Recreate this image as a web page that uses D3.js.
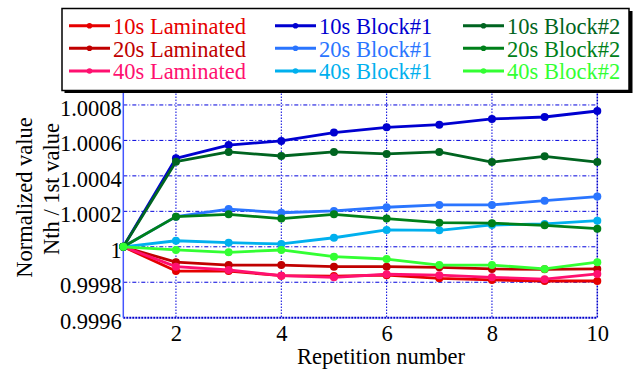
<!DOCTYPE html>
<html>
<head>
<meta charset="utf-8">
<script src="https://cdn.jsdelivr.net/npm/d3@7"></script>
<style>
  body { margin: 0; background: #fff; }
</style>
</head>
<body>
<svg id="chart" width="637" height="370"></svg>
<script>
// repetition index
const reps = [1, 2, 3, 4, 5, 6, 7, 8, 9, 10];

// Nth / 1st value
const lam10 = [1, 0.999863, 0.999863, 0.999837, 0.999835, 0.999840, 0.999822, 0.999813, 0.999807, 0.999807];
const lam20 = [1, 0.999913, 0.999897, 0.999897, 0.999888, 0.999888, 0.999884, 0.999875, 0.999873, 0.999875];
const lam40 = [1, 0.999888, 0.999869, 0.999837, 0.999828, 0.999845, 0.999840, 0.999828, 0.999817, 0.999847];
const blk1_10 = [1, 1.000499, 1.000574, 1.000597, 1.000644, 1.000674, 1.000689, 1.000721, 1.000732, 1.000766];
const blk1_20 = [1, 1.000170, 1.000213, 1.000192, 1.000202, 1.000223, 1.000236, 1.000236, 1.000260, 1.000283];
const blk1_40 = [1, 1.000034, 1.000023, 1.000016, 1.000051, 1.000095, 1.000093, 1.000123, 1.000129, 1.000147];
const blk2_10 = [1, 1.000480, 1.000535, 1.000512, 1.000535, 1.000524, 1.000535, 1.000478, 1.000510, 1.000478];
const blk2_20 = [1, 1.000170, 1.000183, 1.000159, 1.000183, 1.000159, 1.000136, 1.000133, 1.000121, 1.000102];
const blk2_40 = [1, 0.999982, 0.999969, 0.999982, 0.999944, 0.999931, 0.999897, 0.999897, 0.999875, 0.999913];

const seriesNames = ["10s Laminated", "20s Laminated", "40s Laminated",
                     "10s Block#1", "20s Block#1", "40s Block#1",
                     "10s Block#2", "20s Block#2", "40s Block#2"];
const seriesValues = [lam10, lam20, lam40, blk1_10, blk1_20, blk1_40, blk2_10, blk2_20, blk2_40];
const seriesColors = ["#e60000", "#c00000", "#ff1070",
                      "#0000d0", "#2a75ff", "#00b0ee",
                      "#006420", "#00801a", "#33ff33"];

const xTicks = [2, 4, 6, 8, 10];
const yTicks = [0.9996, 0.9998, 1, 1.0002, 1.0004, 1.0006, 1.0008, 1.001];
const yTickLabels = ["0.9996", "0.9998", "1", "1.0002", "1.0004", "1.0006", "1.0008", ""];

const FONT = "Liberation Serif";
const FS = 22.5;

const svg = d3.select("#chart");
const pLeft = 123.3, pRight = 597.3, pTop = 69.5, pBottom = 317.7;

const x = d3.scaleLinear().domain([1, 10]).range([pLeft, pRight]);
const y = d3.scaleLinear().domain([0.9996, 1.001]).range([pBottom, pTop]);

const grid = svg.append("g");
// horizontal grid: dash-dot
grid.selectAll(".hg").data(yTicks.slice(1)).enter().append("line")
    .attr("x1", pLeft).attr("x2", pRight)
    .attr("y1", d => y(d)).attr("y2", d => y(d))
    .attr("stroke", "#0000dd").attr("stroke-width", 1)
    .attr("stroke-dasharray", "4,2,1,2");
// vertical grid: dotted
grid.selectAll(".vg").data(xTicks.slice(0, -1)).enter().append("line")
    .attr("x1", d => x(d)).attr("x2", d => x(d))
    .attr("y1", pTop).attr("y2", pBottom)
    .attr("stroke", "#0000dd").attr("stroke-width", 1)
    .attr("stroke-dasharray", "1.5,1.5");

// box
svg.append("line").attr("x1", pLeft).attr("x2", pRight).attr("y1", pBottom).attr("y2", pBottom)
    .attr("stroke", "#0000cc").attr("stroke-width", 2).attr("stroke-dasharray", "2,1");
svg.append("line").attr("x1", pRight).attr("x2", pRight).attr("y1", pTop).attr("y2", pBottom)
    .attr("stroke", "#0000cc").attr("stroke-width", 1.5).attr("stroke-dasharray", "2,1");
svg.append("line").attr("x1", pLeft).attr("x2", pLeft).attr("y1", pTop).attr("y2", pBottom)
    .attr("stroke", "#4455ff").attr("stroke-width", 1.5);

// axes labels (ticks drawn through the scales)
const xAxis = d3.axisBottom(x).tickValues(xTicks).tickSize(0).tickPadding(0);
svg.append("g").attr("transform", `translate(0,${pBottom})`).call(xAxis)
    .call(g => g.select(".domain").remove())
    .selectAll("text")
    .attr("dy", null).attr("y", 23).attr("fill", "#000")
    .attr("font-family", FONT).attr("font-size", FS);

const yAxis = d3.axisLeft(y).tickValues(yTicks.slice(0, -1))
    .tickFormat((d, i) => yTickLabels[i]).tickSize(0).tickPadding(1.5);
svg.append("g").attr("transform", `translate(${pLeft},0)`).call(yAxis)
    .call(g => g.select(".domain").remove())
    .selectAll("text")
    .attr("dy", null).attr("y", 10.5).attr("fill", "#000")
    .attr("font-family", FONT).attr("font-size", FS);

svg.append("text").attr("x", 381).attr("y", 364).attr("text-anchor", "middle")
    .attr("font-family", FONT).attr("font-size", FS).text("Repetition number");
svg.append("text").attr("transform", "translate(32,197.5) rotate(-90)").attr("text-anchor", "middle")
    .attr("font-family", FONT).attr("font-size", FS).text("Normalized value");
svg.append("text").attr("transform", "translate(59,189) rotate(-90)").attr("text-anchor", "middle")
    .attr("font-family", FONT).attr("font-size", FS).text("Nth / 1st value");

// data
const line = d3.line().x((d, i) => x(reps[i])).y(d => y(d));
const series = svg.append("g").selectAll("g").data(seriesValues).enter().append("g");
series.append("path")
    .attr("d", d => line(d))
    .attr("fill", "none")
    .attr("stroke", (d, i) => seriesColors[i])
    .attr("stroke-width", 2.8)
    .attr("stroke-linejoin", "round");
series.each(function (vals, i) {
    d3.select(this).selectAll("circle").data(vals).enter().append("circle")
        .attr("cx", (d, j) => x(reps[j]))
        .attr("cy", d => y(d))
        .attr("r", 4)
        .attr("fill", seriesColors[i]);
});

// legend
const lg = svg.append("g");
lg.append("rect").attr("x", 64.5).attr("y", 11).attr("width", 568).attr("height", 82).attr("fill", "#000");
lg.append("rect").attr("x", 62).attr("y", 8.5).attr("width", 567).attr("height", 82)
    .attr("fill", "#fff").attr("stroke", "#000").attr("stroke-width", 1.5);
const colX = [69, 275, 463];
const rowY = [25.7, 48.3, 71];
seriesNames.forEach((name, i) => {
    const cx = colX[Math.floor(i / 3)], cy = rowY[i % 3];
    const item = lg.append("g").attr("transform", `translate(${cx},${cy})`);
    item.append("line").attr("x1", 0).attr("x2", 41).attr("y1", 0).attr("y2", 0)
        .attr("stroke", seriesColors[i]).attr("stroke-width", 3);
    item.append("circle").attr("cx", 20.5).attr("cy", 0).attr("r", 2.8).attr("fill", seriesColors[i]);
    item.append("text").attr("x", 44).attr("y", 8.3)
        .attr("font-family", FONT).attr("font-size", FS).attr("fill", seriesColors[i]).text(name);
});
</script>
</body>
</html>
